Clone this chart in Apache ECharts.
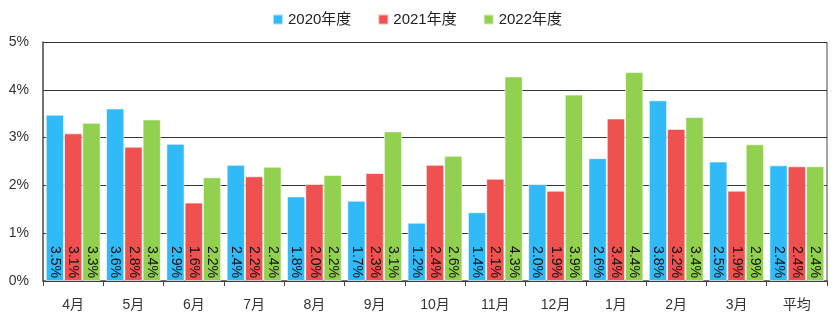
<!DOCTYPE html>
<html><head><meta charset="utf-8">
<script src="https://cdn.jsdelivr.net/npm/echarts@6/dist/echarts.min.js"></script>
<style>html,body{margin:0;padding:0;background:#fff}#c{width:834px;height:325px}</style>
</head><body><div id="c"></div>
<script>
const categories = ['4月','5月','6月','7月','8月','9月','10月','11月','12月','1月','2月','3月','平均'];
const seriesNames = ['2020年度','2021年度','2022年度'];
const v2020 = [3.48,3.61,2.87,2.43,1.77,1.68,1.22,1.44,2.03,2.57,3.78,2.50,2.42];
const v2021 = [3.09,2.81,1.64,2.19,2.03,2.26,2.43,2.14,1.89,3.40,3.18,1.89,2.40];
const v2022 = [3.31,3.38,2.17,2.39,2.22,3.13,2.62,4.28,3.90,4.37,3.43,2.86,2.40];
const yTicks = [0,1,2,3,4,5];
const colors = ['#30BAF7','#EF5151','#92D050'];
const font = '"Liberation Sans","DejaVu Sans","Noto Sans CJK JP",sans-serif';
const mk = (name, data, color) => ({
  name, type:'bar', data, barGap:'0%', barCategoryGap:'9%',
  itemStyle:{color, borderColor:'rgba(255,255,255,0.6)', borderWidth:1},
  label:{show:true, position:'insideBottom', rotate:-90, align:'right', verticalAlign:'middle', distance:3,
    color:'#111', fontSize:14, fontFamily:font, formatter:p=>p.value.toFixed(1)+'%'}
});
const chart = echarts.init(document.getElementById('c'));
chart.setOption({
  animation:false,
  color:colors,
  legend:{top:7, left:'center', itemWidth:10, itemHeight:10, itemGap:26, icon:'rect',
    textStyle:{fontSize:15, color:'#222', fontFamily:font}, data:seriesNames},
  grid:{left:43, right:7, top:42, bottom:44},
  xAxis:{type:'category', data:categories,
    axisLine:{lineStyle:{color:'#444', width:1.5}},
    axisTick:{show:true, length:5, lineStyle:{color:'#444'}},
    axisLabel:{fontSize:14, color:'#333', margin:17, fontFamily:font}},
  yAxis:{type:'value', min:yTicks[0], max:yTicks[yTicks.length-1], interval:1,
    axisLine:{show:true, lineStyle:{color:'#444', width:1.5}},
    axisTick:{show:false},
    splitLine:{lineStyle:{color:'#333', width:1}},
    axisLabel:{fontSize:14, color:'#333', margin:14, fontFamily:font, formatter:v=>v+'%'}},
  graphic:[{type:'line', shape:{x1:827,y1:42,x2:827,y2:281}, style:{stroke:'#444', lineWidth:1}}],
  series:[mk(seriesNames[0],v2020,colors[0]), mk(seriesNames[1],v2021,colors[1]), mk(seriesNames[2],v2022,colors[2])]
});
</script></body></html>
